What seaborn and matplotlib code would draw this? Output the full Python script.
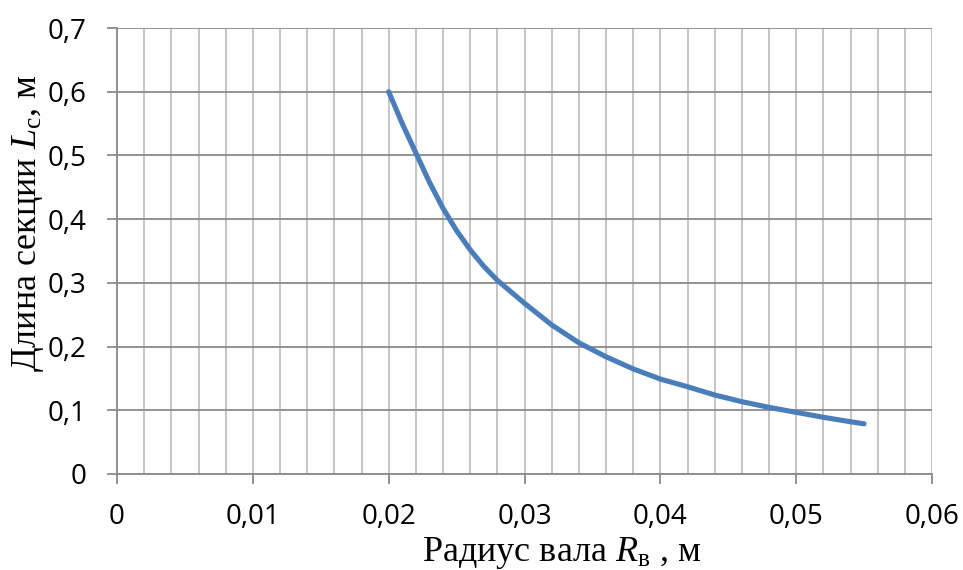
import matplotlib
matplotlib.use("Agg")
import matplotlib.pyplot as plt
from matplotlib.ticker import MultipleLocator, FuncFormatter
import seaborn as sns
import pandas as pd

# Section length vs shaft radius
radius = [0.020, 0.021, 0.022, 0.023, 0.024, 0.025, 0.026, 0.027, 0.028, 0.030,
          0.032, 0.034, 0.036, 0.038, 0.040, 0.042, 0.044, 0.046, 0.048, 0.050,
          0.052, 0.054, 0.055]
length = [0.600, 0.550, 0.504, 0.458, 0.417, 0.382, 0.352, 0.326, 0.304, 0.268,
          0.234, 0.206, 0.184, 0.165, 0.149, 0.137, 0.124, 0.1135, 0.1046, 0.0968,
          0.089, 0.082, 0.0788]

x_ticks = [0, 0.01, 0.02, 0.03, 0.04, 0.05, 0.06]
y_ticks = [0, 0.1, 0.2, 0.3, 0.4, 0.5, 0.6, 0.7]

sns.set_theme(style="white")
plt.rcParams["font.family"] = ["Open Sans", "DejaVu Sans"]
plt.rcParams["mathtext.fontset"] = "custom"
plt.rcParams["mathtext.rm"] = "Liberation Serif"
plt.rcParams["mathtext.it"] = "Liberation Serif:italic"

df = pd.DataFrame({"R": radius, "L": length})

fig = plt.figure(figsize=(9.63, 5.70), dpi=100)
ax = fig.add_axes([117 / 963, 1 - 474 / 570, 815 / 963, 446 / 570])

sns.lineplot(data=df, x="R", y="L", ax=ax, color="#4a7ebb", linewidth=3.7,
             solid_capstyle="round", solid_joinstyle="round", zorder=5)

ax.set_xlim(x_ticks[0], x_ticks[-1])
ax.set_ylim(y_ticks[0], y_ticks[-1])
ax.set_xticks(x_ticks)
ax.set_yticks(y_ticks)
ax.xaxis.set_minor_locator(MultipleLocator(0.002))

comma = FuncFormatter(lambda v, p: ("%g" % round(v, 3)).replace(".", ","))
ax.xaxis.set_major_formatter(comma)
ax.yaxis.set_major_formatter(comma)

# vertical grid every 0.002 (light), horizontal grid every 0.1 (darker)
ax.grid(False)
ax.set_axisbelow(True)
ax.xaxis.grid(True, which="minor", color="#bfbfbf", linewidth=1.3)
ax.xaxis.grid(True, which="major", color="#bfbfbf", linewidth=1.3)
ax.yaxis.grid(True, which="major", color="#8a8a8a", linewidth=1.3)

for side in ["top", "right"]:
    ax.spines[side].set_visible(False)
for side in ["left", "bottom"]:
    ax.spines[side].set_color("#8a8a8a")
    ax.spines[side].set_linewidth(1.3)

ax.tick_params(axis="both", which="major", direction="out", length=7,
               width=1.3, color="#8a8a8a", labelsize=20, labelcolor="black")
ax.tick_params(axis="x", which="major", pad=14, bottom=True)
ax.tick_params(axis="y", which="major", pad=15, left=True)
ax.tick_params(axis="x", which="minor", bottom=False)

ax.set_xlabel(r"Радиус вала $\mathit{R}_{\mathrm{в}}$ , м", fontsize=26,
              family="Liberation Serif", color="black", va="baseline")
ax.set_ylabel(r"Длина секции $\mathit{L}_{\mathrm{с}}$, м", fontsize=26,
              family="Liberation Serif", color="black",
              rotation_mode="default", va="center", ha="center")
ax.xaxis.set_label_coords(0.546, -0.194)
ax.yaxis.set_label_coords(-0.109, 0.563)

fig.savefig("out.png", dpi=100, facecolor="white")
